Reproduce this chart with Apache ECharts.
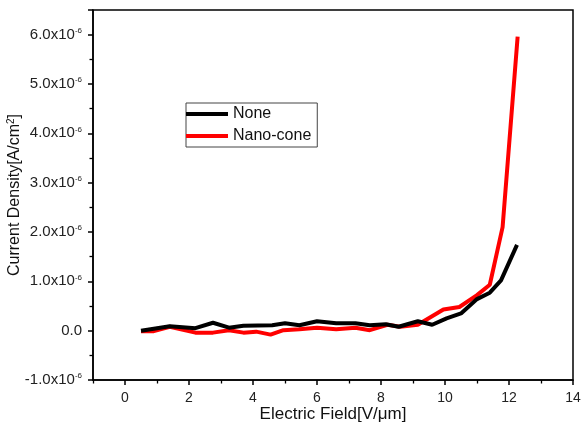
<!DOCTYPE html>
<html><head><meta charset="utf-8">
<script src="https://cdn.jsdelivr.net/npm/echarts@6/dist/echarts.min.js"></script>
<style>html,body{margin:0;padding:0;background:#fff}#c{width:582px;height:432px}</style>
</head><body><div id="c"></div>
<script>
// Electric field (V/um) and current density (A/cm^2)
var noneField = [0.5, 1.4, 2.2, 2.75, 3.25, 3.7, 4.6, 5.0, 5.45, 6.0, 6.6, 7.2, 7.65, 8.15, 8.55, 9.15, 9.6, 10.05, 10.5, 11.0, 11.4, 11.75, 12.25];
var noneJ = [0.0e-6, 0.09e-6, 0.05e-6, 0.16e-6, 0.06e-6, 0.10e-6, 0.11e-6, 0.15e-6, 0.11e-6, 0.19e-6, 0.15e-6, 0.15e-6, 0.11e-6, 0.13e-6, 0.08e-6, 0.19e-6, 0.12e-6, 0.25e-6, 0.35e-6, 0.64e-6, 0.77e-6, 1.02e-6, 1.74e-6];
var coneField = [0.5, 0.9, 1.4, 2.2, 2.75, 3.25, 3.7, 4.1, 4.55, 4.95, 5.45, 6.0, 6.6, 7.2, 7.65, 8.2, 8.6, 9.15, 9.95, 10.45, 11.0, 11.4, 11.8, 12.27];
var coneJ = [-0.01e-6, -0.01e-6, 0.08e-6, -0.04e-6, -0.04e-6, 0.01e-6, -0.04e-6, -0.02e-6, -0.08e-6, 0.01e-6, 0.03e-6, 0.06e-6, 0.03e-6, 0.06e-6, 0.01e-6, 0.12e-6, 0.08e-6, 0.12e-6, 0.43e-6, 0.48e-6, 0.72e-6, 0.93e-6, 2.1e-6, 5.96e-6];
var seriesNames = ['None', 'Nano-cone'];
var xMajorTicks = [0, 2, 4, 6, 8, 10, 12, 14];
var xMinorTicks = [-1, 1, 3, 5, 7, 9, 11, 13];

function pairs(xs, ys){ return xs.map(function(x,i){ return [x, ys[i]]; }); }
var font = 'Liberation Sans, Arial, sans-serif';
var chart = echarts.init(document.getElementById('c'), null, {renderer:'canvas'});
chart.setOption({
  animation: false,
  backgroundColor: '#fff',
  grid: {left: 93, right: 9, top: 10, bottom: 52, containLabel: false, outerBoundsMode: 'none',
    show: true, borderColor: '#000', borderWidth: 1.5, backgroundColor: 'transparent'},
  legend: {
    orient: 'vertical', left: 186, top: 103,
    data: seriesNames,
    icon: 'rect', itemWidth: 42, itemHeight: 4, itemGap: 6,
    padding: [3, 6, 3, 0],
    borderColor: '#444', borderWidth: 1,
    textStyle: {fontFamily: font, fontSize: 16, color: '#111'}
  },
  xAxis: [{
    type: 'value', min: -1, max: 14, interval: 1, position: 'bottom',
    name: 'Electric Field[V/\u03bcm]', nameLocation: 'middle', nameGap: 26, nameMoveOverlap: false,
    nameTextStyle: {fontFamily: font, fontSize: 17, color: '#111'},
    axisLine: {show: true, onZero: false, lineStyle: {color: '#000', width: 1.5}},
    axisTick: {show: true, inside: false, length: 5, customValues: xMajorTicks, lineStyle: {color: '#000', width: 1.5}},
    splitLine: {show: false},
    axisLabel: {fontFamily: font, fontSize: 14, color: '#222', margin: 11, customValues: xMajorTicks}
  }, {
    type: 'value', min: -1, max: 14, interval: 1, position: 'bottom', offset: 0,
    axisLine: {show: false, onZero: false},
    axisTick: {show: true, inside: false, length: 3.5, customValues: xMinorTicks, lineStyle: {color: '#000', width: 1.3}},
    axisLabel: {show: false},
    splitLine: {show: false}
  }],
  yAxis: {
    type: 'value', min: -1e-6, max: 6.5e-6, interval: 1e-6,
    name: 'Current Density[A/cm{s|2}]', nameLocation: 'middle', nameGap: 70, nameRotate: 90, nameMoveOverlap: false,
    nameTextStyle: {fontFamily: font, fontSize: 16, color: '#111',
      rich: {s: {fontSize: 10, fontFamily: font, color: '#111', verticalAlign: 'top', padding: [0,0,7,0]}}},
    axisLine: {show: true, onZero: false, lineStyle: {color: '#000', width: 1.5}},
    axisTick: {show: true, inside: false, length: 5, lineStyle: {color: '#000', width: 1.5}},
    minorTick: {show: true, splitNumber: 2, length: 3.5, lineStyle: {color: '#000', width: 1.3}},
    splitLine: {show: false},
    axisLabel: {fontFamily: font, fontSize: 15, color: '#222', margin: 11, showMaxLabel: false,
      formatter: function(v){
        var m = Math.round(v * 1e7) / 10;
        if (Math.abs(m) < 1e-9) return '0.0';
        if (Math.abs(m - Math.round(m)) > 1e-6) return '';
        return '{a|' + m.toFixed(1) + 'x10}{b|-6}';
      },
      rich: {
        a: {fontFamily: font, fontSize: 15, color: '#222'},
        b: {fontFamily: font, fontSize: 8, color: '#222', verticalAlign: 'top', padding: [0,0,8,0]}
      }
    }
  },
  series: [
    {name: seriesNames[0], type: 'line', data: pairs(noneField, noneJ), showSymbol: false, symbol: 'none',
      lineStyle: {color: '#000', width: 4}, itemStyle: {color: '#000'}, z: 3},
    {name: seriesNames[1], type: 'line', data: pairs(coneField, coneJ), showSymbol: false, symbol: 'none',
      lineStyle: {color: '#ff0000', width: 4}, itemStyle: {color: '#ff0000'}, z: 2}
  ]
});
</script></body></html>
